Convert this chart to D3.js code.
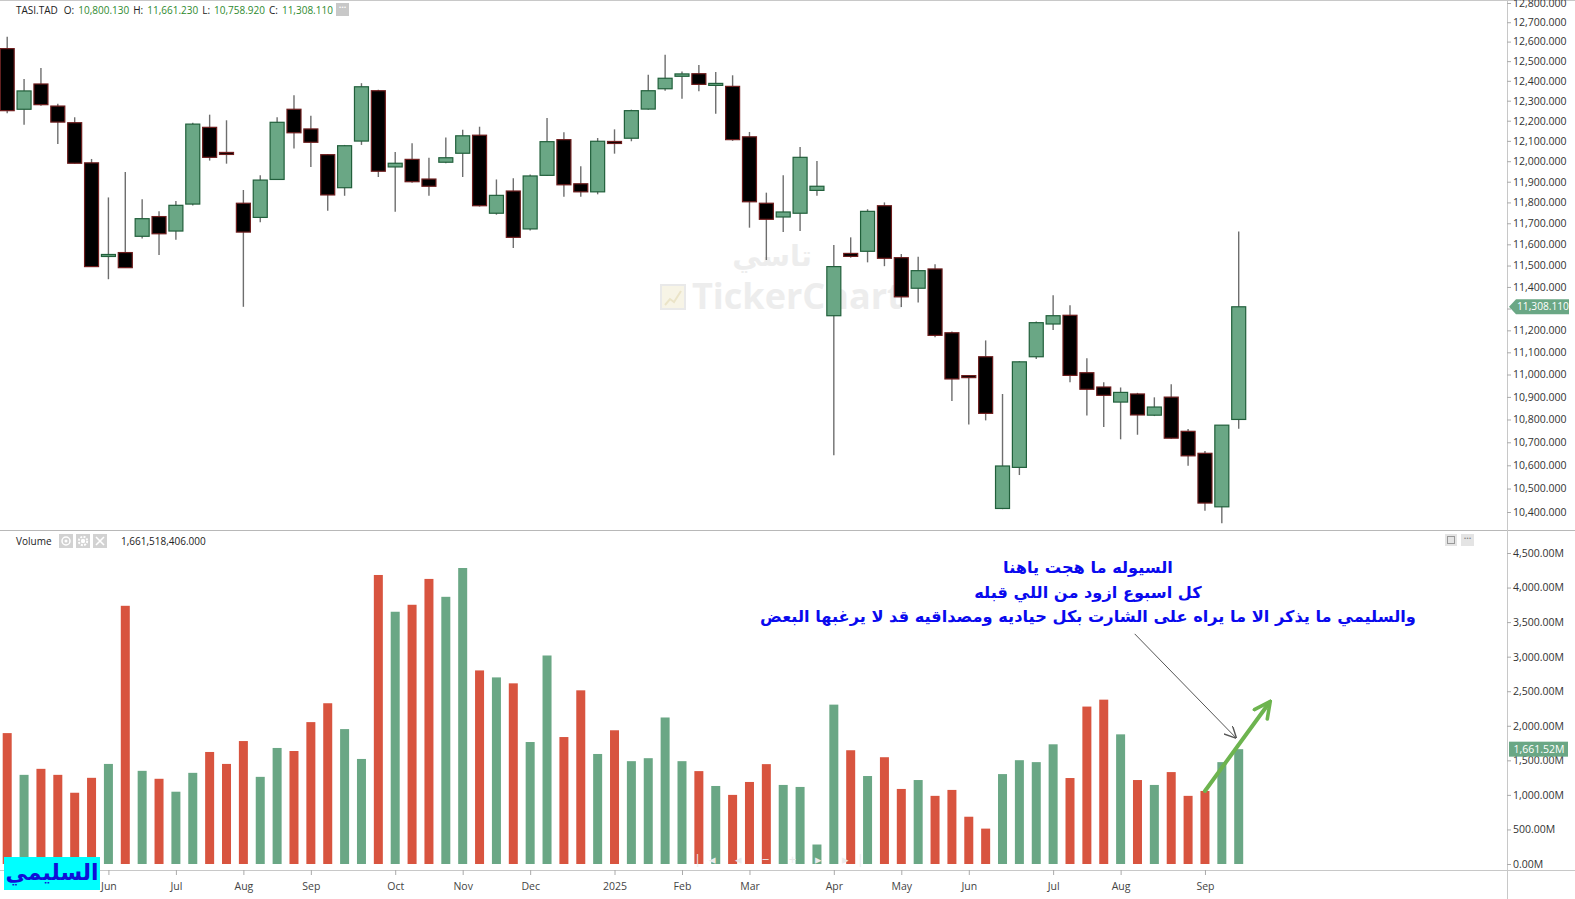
<!DOCTYPE html>
<html><head><meta charset="utf-8">
<script src="https://cdn.jsdelivr.net/npm/d3@7"></script>
<style>html,body{margin:0;padding:0;background:#fff;overflow:hidden}svg{display:block}</style>
</head><body><svg id="c" width="1575" height="899"></svg>
<script>
// ---- data (weekly TASI candles, volume in millions) ----
const opens  = [12564,12257,12384,12273,12190,11992,11545,11561,11638,11732,11663,11792,12167,12043,11796,11728,11911,12257,12159,12032,11871,12099,12350,11972,12009,11913,11995,12039,12128,11748,11855,11673,11931,12106,11890,11851,12097,12113,12258,12360,12423,12436,12378,12372,12120,11796,11730,11748,11858,11267,11557,11567,11784,11537,11394,11484,11189,10995,11080,10415,10591,11080,11229,11269,11008,10944,10877,10913,10819,10899,10748,10652,10422,10800.13];
const highs  = [12625,12409,12465,12285,12217,12011,11824,11947,11815,11757,11807,12190,12230,12202,11860,11931,12217,12327,12225,12035,12080,12388,12355,12045,12088,12017,12117,12155,12170,11911,11917,11935,12213,12142,11975,12114,12157,12255,12431,12533,12447,12480,12445,12428,12144,11847,11931,12070,12001,11597,11633,11767,11800,11554,11541,11506,11195,10998,11154,10913,11060,11240,11361,11315,11073,10965,10942,10918,10898,10956,10758,10662,10772,11661.23];
const lows   = [12237,12180,12275,12084,11988,11493,11436,11488,11627,11549,11622,11785,12003,11988,11308,11705,11908,12062,11972,11760,11832,12080,11923,11755,11895,11832,11990,11923,11780,11741,11582,11665,11928,11827,11827,11839,12037,12098,12255,12350,12310,12347,12235,12100,11679,11526,11658,11663,11832,10644,11537,11515,11497,11307,11328,11169,10882,10778,10796,10412,10558,11070,11202,10965,10818,10767,10713,10733,10815,10715,10598,10405,10352,10758.92];
const closes = [12250,12349,12280,12193,11990,11495,11552,11490,11722,11650,11786,12183,12019,12038,11658,11908,12192,12140,12093,11836,12076,12370,11951,11990,11900,11878,12017,12125,11784,11834,11633,11928,12096,11885,11851,12098,12092,12250,12350,12413,12435,12382,12387,12106,11803,11719,11754,12019,11878,11495,11543,11757,11534,11354,11476,11177,10980,10989,10827,10597,11057,11235,11267,10996,10934,10907,10920,10820,10855,10718,10641,10438,10775,11308.11];
const volumes= [1894,1290,1377,1290,1031,1247,1448,3736,1348,1233,1046,1319,1621,1448,1779,1261,1679,1635,2053,2326,1952,1520,4182,3650,3751,4125,3866,4283,2801,2700,2614,1765,3017,1837,2513,1592,1935,1488,1531,2120,1488,1344,1129,1000,1187,1445,1144,1115,282,2306,1646,1273,1545,1086,1215,986,1072,684,512,1301,1502,1474,1732,1244,2278,2378,1876,1215,1144,1330,986,1057,1474,1661.52];
const monthTickIdx    = [6,10,14,18,23,27,31,36,40,44,49,53,57,62,66,71];
const monthTickLabels = ["Jun","Jul","Aug","Sep","Oct","Nov","Dec","2025","Feb","Mar","Apr","May","Jun","Jul","Aug","Sep"];
const priceTicks  = d3.range(10400, 12801, 100);
const volumeTicks = d3.range(0, 4501, 500);
const symbol = "TASI.TAD";
const volumeRaw = "1,661,518,406.000";
const noteLines = ["السيوله ما هجت ياهنا","كل اسبوع ازود من اللي قبله","والسليمي ما يذكر الا ما يراه على الشارت بكل حياديه ومصداقيه قد لا يرغبها البعض"];
const authorTag = "السليمي";

// ---- layout ----
const W=1575,H=899, axisX=1507, pricePaneBottom=530, volPaneBottom=870;
const GREEN="#6aa785", GREEN_EDGE="#215f3b", RED="#d8543f", BLACK_EDGE="#6e1d1d";
const n = closes.length;
const data = d3.range(n).map(i=>({i,o:opens[i],h:highs[i],l:lows[i],c:closes[i],v:volumes[i]}));

const svg = d3.select("#c");
const x  = d3.scaleLinear().domain([0,n-1]).range([7.2,1238.7]);
const yP = d3.scaleLog().domain([10400,12800]).range([512,3]);
const yV = d3.scaleLinear().domain([0,4500]).range([864,553]);
const font = "'Open Sans', 'Noto Sans', sans-serif";

svg.append("defs").html(`
 <clipPath id="cp"><rect x="0" y="1" width="${axisX}" height="${pricePaneBottom-1}"/></clipPath>
 <clipPath id="cv"><rect x="0" y="${pricePaneBottom+1}" width="${axisX}" height="${volPaneBottom-pricePaneBottom-1}"/></clipPath>
 <marker id="ag" viewBox="0 0 10 10" refX="9" refY="5" markerWidth="12" markerHeight="12" orient="auto" markerUnits="userSpaceOnUse"><path d="M0,0 L10,5 L0,10" fill="none" stroke="#555" stroke-width="1.2"/></marker>
 <marker id="agr" viewBox="0 0 10 10" refX="8" refY="5" markerWidth="5" markerHeight="5" orient="auto"><path d="M1,1 L9,5 L1,9" fill="none" stroke="#6db44f" stroke-width="1.8" stroke-linecap="round"/></marker>
`);

// frame lines
svg.append("line").attr("x1",0).attr("x2",W).attr("y1",0.5).attr("y2",0.5).attr("stroke","#c8c8c8");
svg.append("line").attr("x1",0).attr("x2",W).attr("y1",pricePaneBottom+0.5).attr("y2",pricePaneBottom+0.5).attr("stroke","#b8b8b8");
svg.append("line").attr("x1",0).attr("x2",W).attr("y1",volPaneBottom+0.5).attr("y2",volPaneBottom+0.5).attr("stroke","#c8c8c8");
svg.append("line").attr("x1",axisX+0.5).attr("x2",axisX+0.5).attr("y1",0).attr("y2",H).attr("stroke","#c8c8c8");

// watermark
const wm = svg.append("g");
wm.append("text").attr("x",772).attr("y",266).attr("text-anchor","middle").attr("font-family","'DejaVu Sans',sans-serif").attr("font-weight","bold").attr("font-size",29).attr("fill","#ededed").text("تاسي");
wm.append("rect").attr("x",661).attr("y",285).attr("width",24).attr("height",24).attr("fill","#f7f4e6").attr("stroke","#e9e9e9").attr("stroke-width",2);
wm.append("polyline").attr("points","665,305 670,299 674,302 681,291").attr("fill","none").attr("stroke","#ebe4c8").attr("stroke-width",2);
wm.append("text").attr("x",692).attr("y",309).attr("font-family","'Open Sans',sans-serif").attr("font-weight","bold").attr("font-size",36).attr("fill","#ededed").text("TickerChart");

// candles
const cg = svg.append("g").attr("clip-path","url(#cp)");
const bw = 14;
const up = d => d.c >= d.o;
cg.selectAll("line.w").data(data).join("line")
  .attr("x1",d=>x(d.i)).attr("x2",d=>x(d.i))
  .attr("y1",d=>yP(d.h)).attr("y2",d=>yP(d.l))
  .attr("stroke","#6e6e6e").attr("stroke-width",1.4);
cg.selectAll("rect.b").data(data).join("rect")
  .attr("x",d=>x(d.i)-bw/2).attr("width",bw)
  .attr("y",d=>yP(Math.max(d.o,d.c)))
  .attr("height",d=>Math.max(2,Math.abs(yP(d.o)-yP(d.c))))
  .attr("fill",d=>up(d)?GREEN:"#000")
  .attr("stroke",d=>up(d)?GREEN_EDGE:BLACK_EDGE).attr("stroke-width",1.2);

// volume bars
const vg = svg.append("g").attr("clip-path","url(#cv)");
const vbw = 9;
vg.selectAll("rect").data(data).join("rect")
  .attr("x",d=>x(d.i)-vbw/2).attr("width",vbw)
  .attr("y",d=>yV(d.v)).attr("height",d=>yV(0)-yV(d.v))
  .attr("fill",d=>up(d)?GREEN:RED);

// faint navigation icons
svg.append("text").attr("x",783).attr("y",864).attr("text-anchor","middle").attr("font-family",font).attr("font-size",13).attr("fill","#ebebeb").attr("letter-spacing",8).text("|◂ ◂ − + ▸ ▸|");

// price axis
const pa = svg.append("g").attr("transform",`translate(${axisX},0)`)
  .call(d3.axisRight(yP).tickValues(priceTicks).tickFormat(d3.format(",.3f")).tickSize(4).tickPadding(2));
pa.select(".domain").remove();
pa.selectAll(".tick line").attr("stroke","#aaa");
pa.selectAll("text").attr("font-family",font).attr("font-size",10.5).attr("fill","#333");

// volume axis
const va = svg.append("g").attr("transform",`translate(${axisX},0)`)
  .call(d3.axisRight(yV).tickValues(volumeTicks).tickFormat(d=>d3.format(",.2f")(d)+"M").tickSize(4).tickPadding(2));
va.select(".domain").remove();
va.selectAll(".tick line").attr("stroke","#aaa");
va.selectAll("text").attr("font-family",font).attr("font-size",10.5).attr("fill","#333");

// x axis
const xa = svg.append("g").attr("transform",`translate(0,${volPaneBottom})`)
  .call(d3.axisBottom(x).tickValues(monthTickIdx).tickFormat((d,i)=>monthTickLabels[i]).tickSize(5).tickPadding(8));
xa.select(".domain").remove();
xa.selectAll(".tick line").attr("stroke","#aaa");
xa.selectAll("text").attr("font-family",font).attr("font-size",10.5).attr("fill","#444");

// last price tag (hides the tick label it covers, as in the original)
const last = data[n-1];
const py = yP(last.c);
pa.selectAll(".tick").filter(d=>Math.abs(yP(d)-py)<10).select("text").remove();
svg.append("path").attr("d",`M${axisX+2},${py} L${axisX+9},${py-7.5} L${axisX+62},${py-7.5} L${axisX+62},${py+7.5} L${axisX+9},${py+7.5} Z`).attr("fill",GREEN);
svg.append("text").attr("x",axisX+36).attr("y",py+3.7).attr("text-anchor","middle").attr("font-family",font).attr("font-size",10.2).attr("fill","#fff").text(d3.format(",.3f")(last.c));
const vy = yV(last.v);
svg.append("rect").attr("x",axisX+2).attr("y",vy-7.5).attr("width",59).attr("height",15).attr("fill",GREEN);
svg.append("text").attr("x",axisX+32).attr("y",vy+3.7).attr("text-anchor","middle").attr("font-family",font).attr("font-size",10.5).attr("fill","#fff").text(d3.format(",.2f")(last.v)+"M");

// header
const fmt3 = d3.format(",.3f");
const hdr = svg.append("text").attr("x",16).attr("y",14).attr("font-family",font).attr("font-size",10).attr("fill","#222");
hdr.append("tspan").text(symbol);
[["O:",last.o],["H:",last.h],["L:",last.l],["C:",last.c]].forEach(([k,v],j)=>{
  hdr.append("tspan").attr("dx",j===0?6:4).text(k);
  hdr.append("tspan").attr("dx",4).attr("fill","#2f8a2f").text(fmt3(v));
});
svg.append("rect").attr("x",336).attr("y",3).attr("width",13).attr("height",13).attr("fill","#c8c8c8");
svg.append("text").attr("x",342.5).attr("y",10).attr("text-anchor","middle").attr("font-family",font).attr("font-size",9).attr("font-weight","bold").attr("fill","#fff").text("···");

// volume header
svg.append("text").attr("x",16).attr("y",545).attr("font-family",font).attr("font-size",10).attr("fill","#222").text("Volume");
[59,76,93].forEach((bx,k)=>{
  svg.append("rect").attr("x",bx).attr("y",534).attr("width",14).attr("height",14).attr("fill","#d2d2d2");
  const cx=bx+7, cy=541;
  if(k===0){ svg.append("circle").attr("cx",cx).attr("cy",cy).attr("r",4).attr("fill","none").attr("stroke","#fff").attr("stroke-width",1.5);
             svg.append("circle").attr("cx",cx).attr("cy",cy).attr("r",1.5).attr("fill","#fff"); }
  if(k===1){ svg.append("circle").attr("cx",cx).attr("cy",cy).attr("r",4.2).attr("fill","none").attr("stroke","#fff").attr("stroke-width",2).attr("stroke-dasharray","2 1.3");
             svg.append("circle").attr("cx",cx).attr("cy",cy).attr("r",2.2).attr("fill","#fff"); }
  if(k===2){ svg.append("path").attr("d",`M${cx-4},${cy-4}L${cx+4},${cy+4}M${cx+4},${cy-4}L${cx-4},${cy+4}`).attr("stroke","#fff").attr("stroke-width",1.6); }
});
svg.append("text").attr("x",121).attr("y",545).attr("font-family",font).attr("font-size",10).attr("fill","#222").text(volumeRaw);
// pane icons
svg.append("rect").attr("x",1445).attr("y",534).attr("width",12).attr("height",12).attr("fill","#e4e4e4");
svg.append("rect").attr("x",1447.5).attr("y",536.5).attr("width",7).attr("height",7).attr("fill","none").attr("stroke","#999");
svg.append("rect").attr("x",1461).attr("y",534).attr("width",13).attr("height",12).attr("fill","#e4e4e4");
svg.append("text").attr("x",1467.5).attr("y",541).attr("text-anchor","middle").attr("font-family",font).attr("font-size",9).attr("font-weight","bold").attr("fill","#888").text("···");

// annotation text
const ng = svg.append("g").attr("font-family","'DejaVu Sans',sans-serif").attr("font-weight","bold").attr("font-size",16.2).attr("fill","#0a0aee").attr("text-anchor","middle").attr("direction","rtl");
const noteY=[573,598,622];
noteLines.forEach((t,k)=>ng.append("text").attr("x",1088).attr("y",noteY[k]).text(t));

// arrows anchored to volume scale
svg.append("line").attr("x1",x(n-1)-104).attr("y1",yV(3330)).attr("x2",x(n-1)-3).attr("y2",yV(1830))
  .attr("stroke","#555").attr("stroke-width",1).attr("marker-end","url(#ag)");
svg.append("line").attr("x1",x(71)).attr("y1",yV(volumes[71])).attr("x2",x(74.8)).attr("y2",yV(2330))
  .attr("stroke","#6db44f").attr("stroke-width",4).attr("stroke-linecap","round").attr("marker-end","url(#agr)");

// author tag
svg.append("rect").attr("x",4).attr("y",857).attr("width",96).attr("height",33).attr("fill","#00ffff");
svg.append("text").attr("x",52).attr("y",880).attr("text-anchor","middle").attr("direction","rtl").attr("font-family","'DejaVu Sans',sans-serif").attr("font-weight","bold").attr("font-size",22).attr("fill","#1010d8").text(authorTag);
</script></body></html>
